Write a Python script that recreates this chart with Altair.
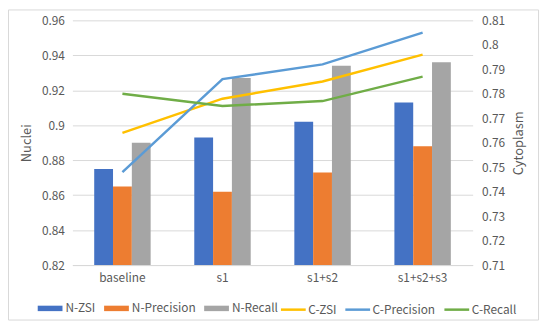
import altair as alt
import pandas as pd

categories = ["baseline", "s1", "s1+s2", "s1+s2+s3"]

bar_series = ["N-ZSI", "N-Precision", "N-Recall"]
n_zsi = [0.875, 0.893, 0.902, 0.913]
n_precision = [0.865, 0.862, 0.873, 0.888]
n_recall = [0.890, 0.927, 0.934, 0.936]

line_series = ["C-ZSI", "C-Precision", "C-Recall"]
c_zsi = [0.764, 0.778, 0.785, 0.796]
c_precision = [0.748, 0.786, 0.792, 0.805]
c_recall = [0.780, 0.775, 0.777, 0.787]

bar_colors = ["#4472C4", "#ED7D31", "#A5A5A5"]
line_colors = ["#FFC000", "#5B9BD5", "#70AD47"]

left_ticks = [0.82, 0.84, 0.86, 0.88, 0.90, 0.92, 0.94, 0.96]
right_ticks = [0.71, 0.72, 0.73, 0.74, 0.75, 0.76, 0.77, 0.78, 0.79, 0.80, 0.81]

rows = []
for s, vals in zip(bar_series, [n_zsi, n_precision, n_recall]):
    for c, v in zip(categories, vals):
        rows.append({"cat": c, "series": s, "value": v})
bars_df = pd.DataFrame(rows)

rows = []
for s, vals in zip(line_series, [c_zsi, c_precision, c_recall]):
    for c, v in zip(categories, vals):
        rows.append({"cat": c, "series": s, "value": v})
lines_df = pd.DataFrame(rows)

FONT = "Noto Sans CJK SC"
TXT = "#595959"

xenc = alt.X("cat:N", sort=categories, title=None,
             scale=alt.Scale(paddingInner=0.436, paddingOuter=0.218),
             axis=alt.Axis(labelAngle=0, ticks=False, domainColor="#D9D9D9",
                           labelPadding=8, labelFontSize=12, labelColor=TXT,
                           labelFont=FONT))

bars = alt.Chart(bars_df).mark_bar(clip=True).encode(
    x=xenc,
    xOffset=alt.XOffset("series:N", sort=bar_series),
    y=alt.Y("value:Q", title="Nuclei",
            scale=alt.Scale(domain=[0.82, 0.96], nice=False, zero=False),
            axis=alt.Axis(values=left_ticks, format="~g", grid=True,
                          gridColor="#D9D9D9", domain=False, ticks=False,
                          labelPadding=8, labelFontSize=12, labelColor=TXT,
                          labelFont=FONT, titleFont=FONT, titleFontSize=13,
                          titleFontWeight="normal", titleColor=TXT,
                          titleX=-46, titleY=123.5, titleAlign="center",
                          titleBaseline="middle", titleAngle=270)),
    color=alt.Color("series:N", sort=bar_series,
                    scale=alt.Scale(domain=bar_series, range=bar_colors),
                    legend=alt.Legend(title=None, orient="none", direction="horizontal",
                                      legendX=-35, legendY=278,
                                      symbolType="M-1,-0.22H1V0.22H-1Z",
                                      symbolSize=625, symbolStrokeWidth=0,
                                      labelOffset=3, columnPadding=8,
                                      labelFontSize=12, labelColor=TXT, labelFont=FONT)),
)

lines = alt.Chart(lines_df).mark_line(strokeWidth=2.5).encode(
    x=alt.X("cat:N", sort=categories),
    y=alt.Y("value:Q", title="Cytoplasm",
            scale=alt.Scale(domain=[0.71, 0.81], nice=False, zero=False),
            axis=alt.Axis(values=right_ticks, format="~g", grid=False,
                          domain=False, ticks=False, orient="right",
                          labelPadding=9, labelFontSize=12, labelColor=TXT,
                          labelFont=FONT, titleFont=FONT, titleFontSize=13,
                          titleFontWeight="normal", titleColor=TXT,
                          titleX=46, titleY=123.5, titleAlign="center",
                          titleBaseline="middle", titleAngle=270)),
    color=alt.Color("series:N", sort=line_series,
                    scale=alt.Scale(domain=line_series, range=line_colors),
                    legend=alt.Legend(title=None, orient="none", direction="horizontal",
                                      legendX=209, legendY=278,
                                      symbolType="M-1,0H1",
                                      symbolSize=625, symbolStrokeWidth=2.5,
                                      labelOffset=1, columnPadding=3,
                                      labelFontSize=12, labelColor=TXT, labelFont=FONT)),
)

border = alt.Chart(pd.DataFrame({"k": [0]})).mark_rect(
    filled=False, stroke="#D9D9D9", strokeWidth=1, clip=False
).encode(x=alt.value(-64.5), x2=alt.value(470.5), y=alt.value(-10.5), y2=alt.value(302.5))

chart = alt.layer(bars, lines, border).resolve_scale(
    y="independent", color="independent"
).properties(
    width=404, height=247,
    autosize=alt.AutoSizeParams(type="none"),
    padding={"left": 65, "top": 11, "right": 70, "bottom": 56},
).configure_view(stroke=None)

chart.save("out.html", embed_options={"renderer": "svg", "actions": False})
